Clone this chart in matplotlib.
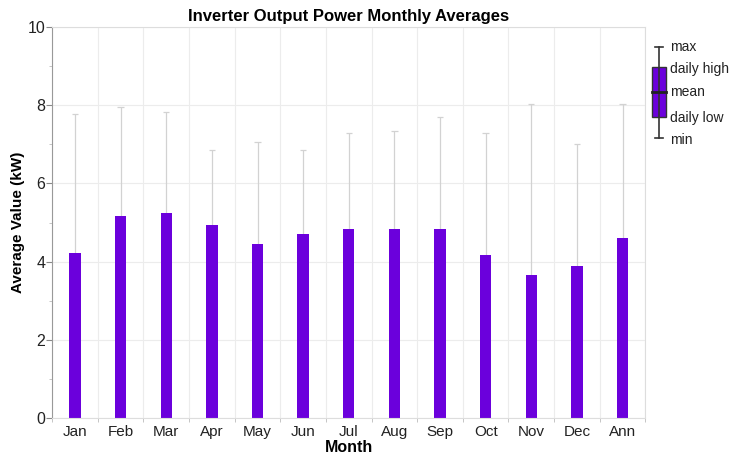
import numpy as np
import matplotlib.pyplot as plt
from matplotlib.patches import Rectangle

plt.rcParams['font.family'] = ['Liberation Sans', 'DejaVu Sans']

months = ["Jan", "Feb", "Mar", "Apr", "May", "Jun", "Jul", "Aug", "Sep",
          "Oct", "Nov", "Dec", "Ann"]
mean_kw = [4.22, 5.17, 5.24, 4.94, 4.44, 4.72, 4.84, 4.84, 4.84, 4.16, 3.65,
           3.90, 4.60]
max_kw = [7.78, 7.95, 7.82, 6.85, 7.05, 6.85, 7.28, 7.35, 7.70, 7.28, 8.02,
          7.00, 8.02]

BAR_COLOR = "#6B00DC"
WHISK_COLOR = "#d2d2d2"
GRID_COLOR = "#ececec"


def main():
    fig = plt.figure(figsize=(7.35, 4.58), dpi=100)
    ax = fig.add_axes([0.071, 0.087, 0.807, 0.854])

    x = np.arange(len(months))

    # whiskers up to the max
    ax.vlines(x, 0, max_kw, color=WHISK_COLOR, lw=0.9, zorder=1)
    ax.hlines(max_kw, x - 0.07, x + 0.07, color=WHISK_COLOR, lw=0.9, zorder=1)
    ax.bar(x, mean_kw, width=0.25, color=BAR_COLOR, zorder=2)

    ax.set_xlim(-0.5, len(months) - 0.5)
    ax.set_ylim(0, 10)
    ax.set_xticks(x)
    ax.set_xticklabels(months)
    ax.set_xticks(np.arange(-0.5, len(months)), minor=True)
    ax.set_yticks(np.arange(0, 11, 2))
    ax.set_yticks(np.arange(1, 10, 2), minor=True)
    ax.tick_params(axis="x", which="major", length=0, labelsize=11, pad=5,
                   colors="#222222")
    ax.tick_params(axis="x", which="minor", length=3, color="#bbbbbb")
    ax.tick_params(axis="y", which="major", length=4, labelsize=11.5, pad=1,
                   color="#888888", labelcolor="#222222")
    ax.tick_params(axis="y", which="minor", length=2, color="#bbbbbb")

    ax.grid(True, axis="y", which="major", color=GRID_COLOR, lw=0.8, zorder=0)
    ax.grid(True, axis="x", which="minor", color=GRID_COLOR, lw=0.8, zorder=0)
    ax.set_axisbelow(True)
    for side in ["top", "right", "bottom"]:
        ax.spines[side].set_color("#dddddd")
    ax.spines["left"].set_color("#999999")

    ax.set_title("Inverter Output Power Monthly Averages", fontsize=12,
                 fontweight="bold", pad=4)
    ax.set_xlabel("Month", fontsize=11.5, fontweight="bold", labelpad=1)
    ax.set_ylabel("Average Value (kW)", fontsize=11, fontweight="bold")
    ax.yaxis.set_label_coords(-0.045, 0.5)

    # legend drawn as a small key at the right, in pixel coordinates
    W, H = 735, 458
    lg = fig.add_axes([0, 0, 1, 1], facecolor="none")
    lg.set_xlim(0, W)
    lg.set_ylim(H, 0)
    lg.axis("off")
    cx = 659
    lg.plot([cx, cx], [47, 138], color="#333333", lw=1.2)
    lg.plot([cx - 4, cx + 4], [47, 47], color="#333333", lw=1.2)
    lg.plot([cx - 4, cx + 4], [138, 138], color="#333333", lw=1.2)
    lg.add_patch(Rectangle((cx - 7, 67), 14, 50, facecolor=BAR_COLOR,
                           edgecolor="#333333", lw=1))
    lg.plot([cx - 7, cx + 7], [92, 92], color="#222222", lw=2)
    labels = ["max", "daily high", "mean", "daily low", "min"]
    ys = [47, 69, 92, 118, 140]
    for lab, yy in zip(labels, ys):
        lg.text(670, yy, lab, fontsize=10, va="center", ha="left",
                color="#222222")

    fig.savefig("out.png", dpi=100)


if __name__ == "__main__":
    main()
